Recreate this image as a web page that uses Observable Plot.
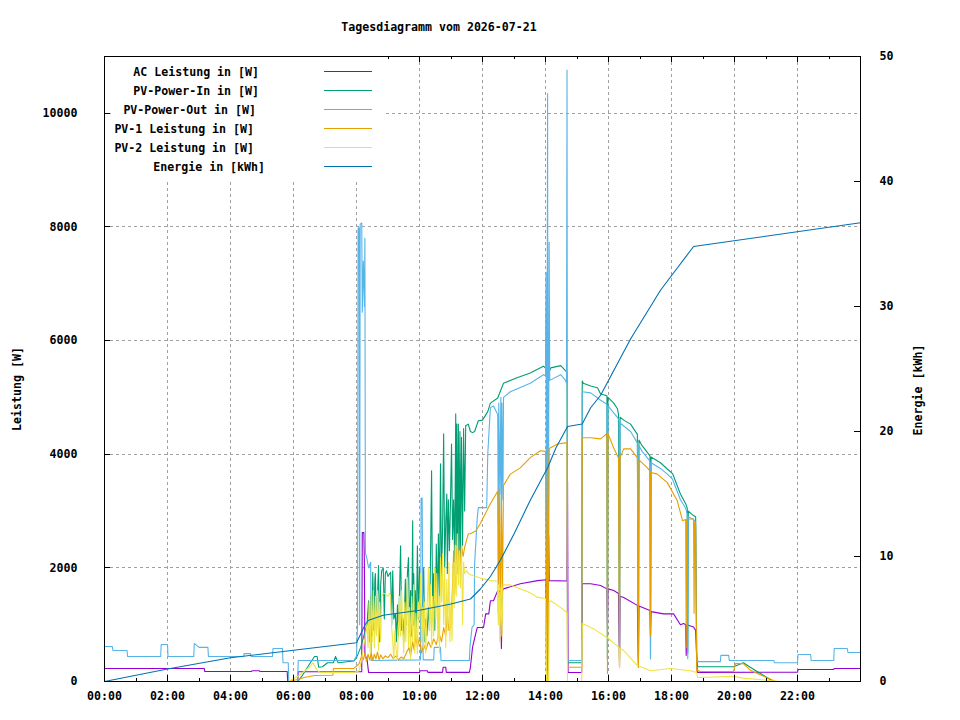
<!DOCTYPE html>
<html>
<head>
<meta charset="utf-8">
<script src="https://cdn.jsdelivr.net/npm/d3@7"></script>
<script src="https://cdn.jsdelivr.net/npm/@observablehq/plot@0.6"></script>
<style>
  body { margin: 0; background: #fff; font-family: "DejaVu Sans Mono", monospace; }
  #wrap { position: relative; width: 960px; height: 720px; background: #fff; }
  #title { position: relative; height: 46px; }
  #title span { position: absolute; left: 0; width: 878px; top: 20px; text-align: center;
    font-size: 11.6px; font-weight: bold; line-height: 14px; color: #000; }
  #legend { position: absolute; left: 111px; top: 57px; width: 272px; height: 123px; background: #fff; }
  #legend .row { position: absolute; left: 0; width: 272px; height: 16px; }
  #legend .lbl { position: absolute; top: 0; white-space: nowrap; font-size: 11.6px;
    font-weight: bold; line-height: 16px; color: #000; }
  #legend .smp { position: absolute; left: 213px; top: 7px; width: 48px; height: 0; border-top: 1px solid; }
</style>
</head>
<body>
<div id="wrap">
  <div id="title"><span>Tagesdiagramm vom 2026-07-21</span></div>
  <div id="chart"></div>
  <div id="legend"></div>
</div>
<script>
// ---------- data ----------
const xTickLabels = ["00:00","02:00","04:00","06:00","08:00","10:00","12:00","14:00","16:00","18:00","20:00","22:00"];
const leftTicks = [0, 2000, 4000, 6000, 8000, 10000];
const rightTicks = [0, 10, 20, 30, 40, 50];
const leftMax = 11000;
const rightMax = 50;

const seriesNames = ["AC Leistung in [W]", "PV-Power-In in [W]", "PV-Power-Out in [W]", "PV-1 Leistung in [W]", "PV-2 Leistung in [W]", "Energie in [kWh]"];
const seriesColors = ["#9400d3", "#009e73", "#56b4e9", "#e69f00", "#f0e442", "#0072b2"];

// [time, W]
const acLeistung = [["00:00",230],["03:10",230],["03:11",175],["04:40",175],["04:41",190],["04:55",190],["04:56",175],["05:48",175],["05:49",0],["06:08",0],["06:09",172],["08:10",172],["08:11",2620],["08:14",2620],["08:15",2100],["08:16",460],["08:20",400],["08:23",158],["10:00",158],["10:01",190],["10:15",190],["10:16",160],["10:44",160],["10:45",250],["10:50",250],["10:51",160],["11:35",160],["11:37",250],["11:41",600],["11:47",840],["11:50",950],["12:02",950],["12:06",1190],["12:12",1190],["12:15",1420],["12:21",1420],["12:29",1600],["12:34",1580],["12:36",580],["12:38",1600],["12:40",1630],["13:12",1720],["13:45",1775],["14:01",1790],["14:02",0],["14:04",720],["14:05",1775],["14:06",2570],["14:07",1775],["14:41",1770],["14:42",3530],["14:43",158],["15:09",158],["15:10",1720],["15:26",1720],["15:45",1690],["15:57",1630],["15:58",950],["15:59",1630],["16:10",1600],["16:19",1550],["16:21",250],["16:22",1500],["16:29",1480],["16:55",1340],["16:57",250],["16:58",1330],["17:19",1250],["17:20",800],["17:21",1230],["17:45",1190],["18:04",1190],["18:17",1000],["18:23",1020],["18:27",1000],["18:28",460],["18:29",1000],["18:42",960],["18:46",900],["18:48",400],["18:49",160],["22:00",165],["22:01",210],["23:09",210],["23:10",230],["24:00",230]];

const pvPowerIn = [["00:00",0],["06:08",0],["06:15",80],["06:30",300],["06:40",440],["06:45",440],["06:48",250],["06:55",260],["07:05",330],["07:16",330],["07:20",440],["07:25",330],["07:55",360],["08:00",420],["08:08",600],["08:15",840],["08:20",1000],["08:23",1420],["08:25",700],["08:27",1500],["08:29",800],["08:31",1920],["08:33",900],["08:35",1800],["08:36",1900],["08:38",850],["08:40",1500],["08:42",2040],["08:44",700],["08:46",1700],["08:48",1950],["08:51",2000],["08:53",1100],["08:55",1900],["08:57",1950],["09:00",1850],["09:03",1900],["09:05",1920],["09:07",1000],["09:09",1950],["09:11",1100],["09:14",1200],["09:16",700],["09:18",1350],["09:20",800],["09:22",1600],["09:24",2390],["09:26",900],["09:28",1100],["09:30",700],["09:33",1800],["09:35",1000],["09:37",1900],["09:39",2180],["09:41",900],["09:43",1600],["09:45",800],["09:47",2830],["09:48",1000],["09:49",1900],["09:51",700],["09:52",1600],["09:54",900],["09:56",2390],["09:58",1100],["10:00",2000],["10:02",1300],["10:04",900],["10:08",2000],["10:10",700],["10:12",1100],["10:14",800],["10:17",1300],["10:19",900],["10:21",2200],["10:23",3710],["10:25",1200],["10:27",1900],["10:29",900],["10:31",1700],["10:32",2420],["10:34",1300],["10:36",2600],["10:38",1400],["10:40",3830],["10:42",1800],["10:44",2700],["10:46",4360],["10:48",2000],["10:50",2800],["10:52",3300],["10:53",1900],["10:55",3200],["10:57",2300],["10:59",3150],["11:01",4180],["11:03",2500],["11:05",3200],["11:07",2100],["11:09",4710],["11:10",2400],["11:11",4530],["11:12",2200],["11:14",4530],["11:15",2000],["11:17",4400],["11:18",2100],["11:20",4300],["11:22",2400],["11:24",4450],["11:26",3000],["11:28",4500],["11:33",4530],["11:37",4400],["11:41",4380],["11:45",4400],["11:52",4590],["12:00",4600],["12:10",4750],["12:15",4900],["12:29",4990],["12:40",5250],["13:07",5350],["13:31",5430],["13:56",5550],["14:02",5500],["14:03",200],["14:05",5400],["14:10",5520],["14:29",5560],["14:38",5470],["14:41",5450],["14:42",330],["15:09",330],["15:10",5290],["15:12",5250],["15:26",5200],["15:39",5170],["15:45",5060],["15:57",5030],["15:58",400],["15:59",5000],["16:10",4900],["16:17",4800],["16:19",4700],["16:21",400],["16:22",4650],["16:29",4600],["16:42",4530],["16:55",4350],["16:57",400],["16:58",4250],["17:04",4150],["17:19",3970],["17:20",400],["17:21",3950],["17:39",3850],["17:52",3740],["18:02",3660],["18:17",3300],["18:27",3130],["18:30",3050],["18:31",500],["18:32",3000],["18:42",2920],["18:46",2900],["18:48",400],["18:50",260],["19:58",260],["20:17",330],["20:30",250],["21:14",0]];

const pvPowerOut = [["00:00",615],["00:15",615],["00:16",545],["00:43",545],["00:44",440],["01:47",440],["01:48",650],["02:00",650],["02:01",440],["02:50",440],["02:51",670],["03:00",600],["03:17",600],["03:18",440],["04:25",440],["04:26",490],["04:38",490],["04:39",440],["05:20",440],["05:21",580],["05:39",580],["05:40",330],["05:50",330],["05:51",0],["06:08",0],["06:09",370],["07:55",370],["08:00",450],["08:02",1000],["08:03",7960],["08:04",8000],["08:05",7960],["08:06",1000],["08:07",8050],["08:10",8070],["08:11",6500],["08:13",7400],["08:15",6600],["08:16",7800],["08:17",2250],["08:19",2200],["08:23",2000],["08:27",2100],["08:28",370],["10:02",380],["10:03",3230],["10:05",3230],["10:07",380],["10:27",380],["10:28",600],["10:40",600],["10:41",370],["11:35",370],["11:36",600],["11:40",950],["11:44",1000],["11:45",2070],["11:50",2880],["11:52",3060],["12:08",3060],["12:10",4000],["12:15",4820],["12:21",4850],["12:29",4700],["12:30",2800],["12:31",4900],["12:33",3300],["12:35",5000],["12:36",2500],["12:37",4900],["12:39",3200],["12:40",5000],["12:53",5100],["13:31",5250],["13:56",5400],["14:00",5380],["14:01",7200],["14:02",300],["14:04",10350],["14:05",400],["14:07",7730],["14:08",5300],["14:29",5400],["14:38",5300],["14:40",5250],["14:41",10760],["14:42",370],["15:09",370],["15:10",5100],["15:26",5080],["15:45",4950],["15:57",4880],["15:58",400],["15:59",4850],["16:17",4650],["16:20",4600],["16:21",400],["16:22",4550],["16:42",4400],["16:55",4200],["16:57",300],["16:58",4150],["17:04",4050],["17:19",3880],["17:20",400],["17:21",3850],["17:39",3750],["17:52",3650],["18:02",3560],["18:17",3200],["18:27",3050],["18:30",2950],["18:31",400],["18:32",2900],["18:42",2850],["18:46",2800],["18:48",500],["18:50",350],["19:33",350],["19:34",460],["19:49",460],["19:50",370],["21:15",370],["21:16",330],["22:00",330],["22:01",475],["22:25",475],["22:26",370],["23:09",370],["23:10",580],["23:35",580],["23:36",510],["24:00",510]];

const pv1Leistung = [["00:00",0],["05:50",0],["06:10",40],["06:20",70],["06:40",105],["07:15",110],["07:16",230],["07:55",230],["08:05",315],["08:10",460],["08:13",380],["08:16",500],["08:19",350],["08:22",480],["08:25",380],["08:28",500],["08:31",370],["08:34",480],["08:37",400],["08:40",520],["08:43",380],["08:46",470],["08:50",400],["08:55",450],["09:00",420],["09:05",480],["09:10",400],["09:15",450],["09:20",380],["09:25",430],["09:30",400],["09:35",500],["09:40",600],["09:43",450],["09:47",700],["09:50",550],["09:53",800],["09:56",600],["10:00",780],["10:04",500],["10:08",650],["10:12",550],["10:17",700],["10:22",600],["10:27",750],["10:32",650],["10:37",850],["10:42",700],["10:46",950],["10:50",800],["10:53",1190],["10:56",900],["11:00",1000],["11:03",1700],["11:05",2300],["11:07",1550],["11:09",2000],["11:11",2360],["11:13",1900],["11:15",2300],["11:17",2000],["11:20",2400],["11:23",2200],["11:26",2360],["11:30",2500],["11:33",2600],["11:37",2600],["11:47",2650],["11:56",2780],["12:15",3130],["12:29",3350],["12:30",1200],["12:32",3400],["12:34",1000],["12:36",3300],["12:38",1500],["12:40",3450],["12:53",3650],["13:12",3760],["13:31",3940],["13:50",4060],["14:00",4050],["14:02",0],["14:04",4000],["14:05",0],["14:07",4100],["14:23",4180],["14:38",4200],["14:41",4200],["14:42",250],["15:09",250],["15:10",4290],["15:26",4290],["15:45",4270],["15:57",4360],["15:58",140],["15:59",4360],["16:10",4110],["16:19",3940],["16:21",250],["16:22",3940],["16:29",4095],["16:42",4095],["16:55",3940],["16:57",250],["16:58",3900],["17:14",3760],["17:19",3700],["17:20",800],["17:21",3680],["17:33",3650],["17:52",3500],["18:11",3180],["18:21",2830],["18:27",2850],["18:28",600],["18:29",2850],["18:36",2860],["18:42",2860],["18:43",1200],["18:44",2800],["18:46",2750],["18:48",200],["18:55",175],["19:58",175],["20:02",315],["20:17",315],["20:30",200],["21:18",0],["24:00",0]];

const pv2Leistung = [["00:00",0],["05:50",0],["06:10",100],["06:30",250],["06:37",330],["06:45",200],["06:50",160],["07:55",160],["08:05",190],["08:10",400],["08:15",700],["08:20",1000],["08:22",600],["08:24",1400],["08:26",500],["08:28",1500],["08:30",700],["08:32",1600],["08:34",600],["08:36",1500],["08:38",800],["08:40",1600],["08:42",550],["08:44",1400],["08:46",700],["08:48",1500],["08:50",1550],["08:53",1550],["08:57",1520],["09:00",1500],["09:03",1550],["09:05",1510],["09:07",950],["09:09",700],["09:11",400],["09:13",900],["09:15",600],["09:18",370],["09:20",1000],["09:22",1500],["09:24",800],["09:26",1600],["09:28",900],["09:30",500],["09:32",1400],["09:34",700],["09:37",1830],["09:39",600],["09:41",1300],["09:43",400],["09:45",1500],["09:47",700],["09:49",1700],["09:51",500],["09:53",1200],["09:56",490],["09:58",1400],["10:00",1100],["10:02",1900],["10:04",700],["10:06",1300],["10:08",600],["10:10",1400],["10:12",500],["10:14",1200],["10:17",2000],["10:19",900],["10:21",1700],["10:23",600],["10:25",1500],["10:27",800],["10:29",2000],["10:31",1100],["10:33",1900],["10:35",700],["10:37",1500],["10:38",500],["10:40",2180],["10:42",1400],["10:44",2250],["10:46",1000],["10:48",2000],["10:50",600],["10:52",1800],["10:54",900],["10:56",2100],["10:58",700],["11:00",1400],["11:02",720],["11:04",2100],["11:06",1300],["11:08",2400],["11:10",1500],["11:12",2600],["11:14",1700],["11:16",2300],["11:18",1650],["11:20",2400],["11:22",1000],["11:24",2100],["11:26",1900],["11:30",1950],["11:33",1900],["11:37",1880],["11:43",1860],["11:56",1820],["12:15",1780],["12:29",1760],["12:30",1000],["12:31",1700],["12:33",700],["12:35",1650],["12:37",800],["12:39",1700],["12:53",1700],["13:07",1650],["13:31",1560],["13:45",1480],["14:00",1460],["14:02",0],["14:06",0],["14:07",1400],["14:10",1420],["14:29",1300],["14:41",1210],["14:42",0],["15:09",0],["15:10",1020],["15:31",930],["15:58",770],["16:20",600],["16:21",250],["16:22",580],["16:29",545],["16:55",280],["17:20",190],["17:58",230],["18:36",190],["18:48",160],["18:50",70],["19:58",90],["20:17",60],["21:28",0],["24:00",0]];

// [time, kWh]
const energie = [["00:00",0],["02:00",1.0],["04:00",1.9],["06:00",2.5],["08:00",3.1],["08:08",3.8],["08:17",4.6],["08:23",4.9],["08:51",5.3],["10:00",5.7],["11:00",6.2],["11:37",6.6],["11:56",7.4],["12:15",8.4],["12:34",9.7],["13:00",11.8],["13:31",14.5],["14:04",17.1],["14:20",18.7],["14:42",20.4],["15:10",20.6],["15:26",21.9],["15:45",22.9],["16:42",27.4],["17:39",31.3],["18:42",34.8],["24:00",36.7]];

// ---------- helpers ----------
const T = s => { const [h, m] = s.split(":").map(Number); return new Date(Date.UTC(2026, 6, 21, h, m)); };
const E = leftMax / rightMax; // kWh mapped onto the W scale for the secondary axis
const toRows = (pairs, k = 1) => pairs.map(([t, v]) => ({time: T(t), value: v * k}));

const seriesData = [
  toRows(acLeistung),
  toRows(pvPowerIn),
  toRows(pvPowerOut),
  toRows(pv1Leistung),
  toRows(pv2Leistung),
  toRows(energie, E)
];

const xTicks = xTickLabels.map(T);
const minorX = d3.utcHour.range(T("00:00"), T("24:00")).filter(d => d.getUTCHours() % 2 === 1);

const W = 960, H = 674, mt = 10, mb = 39, ml = 104, mr = 100;
const innerH = H - mt - mb, innerW = W - ml - mr;
const crisp = {shapeRendering: "crispEdges"};
const grid = {stroke: "#a0a0a0", strokeOpacity: 1, strokeDasharray: "3,3", strokeWidth: 1, ...crisp};

const chart = Plot.plot({
  width: W, height: H,
  marginTop: mt, marginBottom: mb, marginLeft: ml, marginRight: mr,
  style: {fontFamily: "DejaVu Sans Mono", fontSize: "11.6px", fontWeight: "bold", background: "#fff", color: "#000", overflow: "visible"},
  x: {type: "utc", domain: [T("00:00"), T("24:00")]},
  y: {domain: [0, leftMax]},
  marks: [
    Plot.gridX(xTicks.slice(1), {...grid}),
    Plot.gridY(leftTicks.slice(1), {...grid}),
    ...seriesData.map((d, i) => Plot.line(d, {x: "time", y: "value", stroke: seriesColors[i], strokeWidth: 1.1})),
    Plot.frame({stroke: "#000", strokeWidth: 1, ...crisp}),
    Plot.tickX(xTicks, {x: d => d, stroke: "#000", insetTop: innerH - 6, ...crisp}),
    Plot.tickX(xTicks, {x: d => d, stroke: "#000", insetBottom: innerH - 6, ...crisp}),
    Plot.tickX(minorX, {x: d => d, stroke: "#000", insetTop: innerH - 3, ...crisp}),
    Plot.tickX(minorX, {x: d => d, stroke: "#000", insetBottom: innerH - 3, ...crisp}),
    Plot.tickY(leftTicks, {y: d => d, stroke: "#000", insetRight: innerW - 6, ...crisp}),
    Plot.tickY(rightTicks.map(v => v * E), {y: d => d, stroke: "#000", insetLeft: innerW - 6, ...crisp}),
    Plot.axisX({ticks: xTicks, tickFormat: d3.utcFormat("%H:%M"), tickSize: 0, tickPadding: 10, label: null}),
    Plot.axisY({anchor: "left", ticks: leftTicks, tickFormat: d => String(d), tickSize: 0, tickPadding: 27, label: null}),
    Plot.axisY({anchor: "right", ticks: rightTicks.map(v => v * E), tickFormat: d => String(Math.round(d / E)), tickSize: 0, tickPadding: 19, label: null}),
    Plot.text(["Leistung [W]"], {text: d => d, frameAnchor: "left", textAnchor: "middle", dx: -87, dy: 20, rotate: -90, fill: "#000"}),
    Plot.text(["Energie [kWh]"], {text: d => d, frameAnchor: "right", textAnchor: "middle", dx: 58, dy: 21, rotate: -90, fill: "#000"})
  ]
});
document.getElementById("chart").appendChild(chart);

// ---------- legend ----------
const legend = document.getElementById("legend");
const legendRight = [112, 112, 115, 117, 117, 106]; // gnuplot-style justification offsets (px from box right)
seriesNames.forEach((name, i) => {
  const row = document.createElement("div");
  row.className = "row";
  row.style.top = (7 + i * 19) + "px";
  const lbl = document.createElement("span");
  lbl.className = "lbl";
  lbl.style.right = (legendRight[i] + 12) + "px";
  lbl.textContent = name;
  const smp = document.createElement("span");
  smp.className = "smp";
  smp.style.borderTopColor = seriesColors[i];
  row.appendChild(lbl);
  row.appendChild(smp);
  legend.appendChild(row);
});
</script>
</body>
</html>
